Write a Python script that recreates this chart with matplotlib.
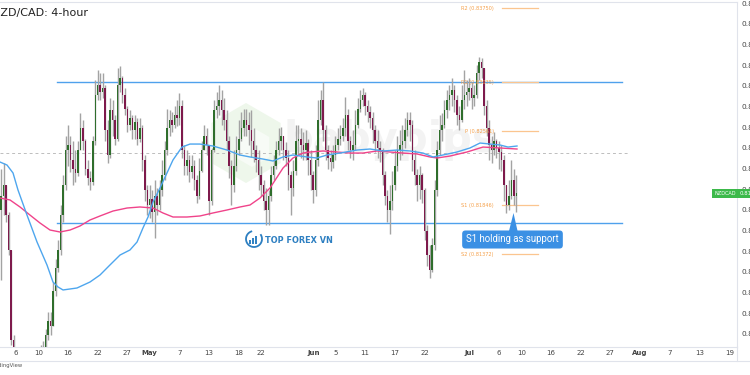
import numpy as np
import matplotlib
matplotlib.use("Agg")
import matplotlib.pyplot as plt
from matplotlib.patches import Polygon
from matplotlib.lines import Line2D

# ---------------- data ----------------
# trading-day index: 0 = session of Mon 7 Apr 2025 (starts Sun 6 Apr evening)
bars_per_day = 3
first_day = -2.0
first_open = 0.8180

# prices in units of 0.0001
close_pips = [8194, 8204, 8175, 8141, 8054, 8035,
              8025, 8000, 7985, 7978, 7992, 7968, 7980, 7990, 8005, 8015, 8032, 8040,
              8059, 8073, 8068, 8102, 8124, 8141, 8175, 8204, 8238, 8243, 8228, 8220,
              8216, 8238, 8259, 8247, 8220, 8211, 8207, 8247, 8291, 8301, 8294, 8298,
              8257, 8233, 8277, 8267, 8249, 8301, 8308, 8291, 8278, 8262, 8269, 8257,
              8265, 8249, 8259, 8228, 8199, 8185, 8191, 8178, 8194, 8185, 8199, 8214,
              8238, 8259, 8267, 8262, 8272, 8269, 8281, 8238, 8223, 8228, 8217, 8223,
              8209, 8194, 8218, 8238, 8252, 8243, 8189, 8238, 8277, 8281, 8286, 8277,
              8267, 8247, 8223, 8204, 8223, 8238, 8249, 8259, 8267, 8262, 8257, 8247,
              8238, 8228, 8214, 8204, 8189, 8180, 8194, 8214, 8223, 8238, 8247, 8252,
              8238, 8230, 8214, 8201, 8218, 8247, 8249, 8243, 8238, 8245, 8228, 8214,
              8199, 8228, 8267, 8286, 8257, 8238, 8230, 8226, 8233, 8243, 8249, 8252,
              8259, 8272, 8247, 8238, 8243, 8262, 8278, 8286, 8291, 8281, 8275, 8269,
              8257, 8247, 8240, 8238, 8214, 8194, 8180, 8189, 8204, 8223, 8238, 8243,
              8247, 8257, 8267, 8262, 8228, 8214, 8204, 8214, 8199, 8160, 8136, 8122,
              8146, 8199, 8238, 8257, 8262, 8277, 8286, 8291, 8296, 8286, 8272, 8267,
              8286, 8291, 8294, 8298, 8288, 8291, 8313, 8323, 8317, 8281, 8259, 8243,
              8238, 8247, 8240, 8236, 8228, 8204, 8185, 8194, 8209, 8194, 8196]
high_pips = [8220, 8225, 8199, 8178, 8141, 8059,
             8040, 8030, 8005, 7995, 8000, 7995, 7990, 8000, 8015, 8030, 8049, 8053,
             8065, 8081, 8081, 8110, 8133, 8151, 8185, 8214, 8252, 8262, 8252, 8247,
             8238, 8247, 8274, 8267, 8249, 8228, 8218, 8252, 8306, 8315, 8313, 8313,
             8301, 8267, 8288, 8286, 8272, 8317, 8319, 8310, 8298, 8281, 8277, 8272,
             8272, 8269, 8269, 8262, 8233, 8204, 8204, 8199, 8209, 8201, 8209, 8228,
             8247, 8278, 8277, 8275, 8281, 8286, 8293, 8286, 8243, 8238, 8233, 8233,
             8228, 8214, 8230, 8247, 8262, 8259, 8243, 8240, 8286, 8294, 8301, 8296,
             8288, 8277, 8252, 8228, 8238, 8252, 8267, 8275, 8278, 8278, 8275, 8277,
             8259, 8243, 8238, 8223, 8209, 8201, 8199, 8223, 8233, 8247, 8259, 8260,
             8252, 8246, 8238, 8218, 8228, 8262, 8262, 8259, 8255, 8257, 8249, 8238,
             8218, 8243, 8286, 8296, 8304, 8262, 8243, 8238, 8243, 8252, 8259, 8262,
             8269, 8289, 8278, 8252, 8257, 8277, 8288, 8296, 8298, 8294, 8286, 8281,
             8275, 8262, 8257, 8247, 8240, 8218, 8199, 8204, 8218, 8238, 8252, 8257,
             8262, 8269, 8275, 8275, 8267, 8238, 8220, 8223, 8216, 8201, 8165, 8146,
             8153, 8209, 8247, 8272, 8274, 8286, 8296, 8301, 8308, 8301, 8291, 8281,
             8301, 8315, 8306, 8308, 8304, 8301, 8320, 8328, 8327, 8315, 8286, 8267,
             8252, 8255, 8249, 8247, 8243, 8233, 8204, 8209, 8228, 8220, 8214]
low_pips = [8112, 8175, 8168, 8136, 8049, 8015,
            8005, 7985, 7970, 7960, 7970, 7955, 7960, 7975, 7985, 8000, 8010, 8025,
            8046, 8054, 8059, 8068, 8097, 8120, 8136, 8168, 8199, 8223, 8217, 8204,
            8207, 8213, 8238, 8238, 8214, 8204, 8199, 8204, 8243, 8286, 8286, 8288,
            8247, 8225, 8230, 8252, 8243, 8247, 8294, 8284, 8272, 8255, 8257, 8249,
            8249, 8243, 8246, 8218, 8189, 8175, 8172, 8168, 8153, 8175, 8180, 8194,
            8209, 8233, 8252, 8255, 8259, 8261, 8262, 8230, 8214, 8214, 8207, 8211,
            8199, 8187, 8191, 8217, 8238, 8233, 8175, 8185, 8236, 8269, 8272, 8262,
            8257, 8238, 8211, 8185, 8197, 8218, 8233, 8247, 8252, 8252, 8243, 8231,
            8226, 8217, 8199, 8194, 8180, 8165, 8165, 8189, 8209, 8220, 8233, 8238,
            8228, 8223, 8199, 8175, 8194, 8214, 8233, 8230, 8228, 8228, 8214, 8199,
            8187, 8194, 8223, 8262, 8247, 8228, 8220, 8218, 8221, 8228, 8238, 8243,
            8247, 8252, 8238, 8230, 8228, 8238, 8259, 8275, 8281, 8272, 8265, 8259,
            8245, 8236, 8230, 8226, 8204, 8185, 8168, 8157, 8180, 8199, 8218, 8228,
            8233, 8240, 8252, 8247, 8218, 8204, 8189, 8191, 8187, 8151, 8126, 8114,
            8120, 8141, 8194, 8233, 8247, 8259, 8269, 8277, 8281, 8275, 8262, 8257,
            8265, 8278, 8281, 8286, 8278, 8281, 8288, 8306, 8308, 8272, 8252, 8228,
            8225, 8233, 8230, 8220, 8218, 8189, 8177, 8180, 8191, 8185, 8178]

# moving averages (trading-day index, price)
ma_fast_day = [-2.15, -1.21, -0.40, 0.27, 1.48, 2.83, 4.17, 4.98, 5.65, 6.33, 8.21, 9.96,
               11.31, 12.65, 14.0, 15.34, 16.29, 17.09, 17.77, 18.44, 19.38, 20.32, 21.13,
               22.34, 23.42, 24.76, 26.51, 28.40, 30.15, 31.49, 33.24, 34.59, 35.94, 37.28,
               39.17, 40.51, 41.86, 43.61, 45.90, 47.64, 49.39, 51.28, 53.03, 54.78, 56.12,
               57.47, 59.35, 61.10, 62.45, 63.80, 65.14, 66.22, 67.43]
ma_fast_val = [0.82264, 0.82235, 0.82158, 0.81993, 0.81751, 0.81490, 0.81268, 0.81103,
               0.81055, 0.81026, 0.81045, 0.81103, 0.81171, 0.81268, 0.81364, 0.81413,
               0.81490, 0.81626, 0.81732, 0.81877, 0.82013, 0.82158, 0.82284, 0.82409,
               0.82438, 0.82438, 0.82419, 0.82380, 0.82332, 0.82313, 0.82293, 0.82274,
               0.82313, 0.82332, 0.82313, 0.82303, 0.82332, 0.82351, 0.82380, 0.82390,
               0.82371, 0.82380, 0.82371, 0.82351, 0.82313, 0.82332, 0.82361, 0.82400,
               0.82448, 0.82438, 0.82429, 0.82409, 0.82419]
ma_slow_day = [-2.15, -0.81, 0.54, 1.88, 3.23, 4.58, 5.92, 7.27, 8.61, 9.96, 11.31, 13.06,
               14.94, 16.69, 18.44, 19.78, 21.13, 23.01, 24.76, 26.51, 28.40, 30.15, 31.49,
               32.84, 34.19, 35.94, 37.28, 38.63, 39.57, 41.32, 43.20, 44.95, 46.70, 48.59,
               50.34, 52.09, 53.97, 55.72, 56.66, 58.41, 60.70, 62.85, 65.14, 67.43]
ma_slow_val = [0.81916, 0.81897, 0.81829, 0.81751, 0.81674, 0.81606, 0.81587, 0.81606,
               0.81645, 0.81703, 0.81742, 0.81790, 0.81819, 0.81829, 0.81819, 0.81771,
               0.81732, 0.81732, 0.81742, 0.81771, 0.81800, 0.81829, 0.81848, 0.81916,
               0.82013, 0.82206, 0.82303, 0.82351, 0.82361, 0.82371, 0.82361, 0.82351,
               0.82351, 0.82371, 0.82361, 0.82351, 0.82342, 0.82313, 0.82303, 0.82322,
               0.82361, 0.82409, 0.82400, 0.82390]

range_levels = [0.83038, 0.81671]
mid_level = 0.82351
pivot_names = ["R2", "R1", "P", "S1", "S2"]
pivot_vals = [0.83750, 0.83035, 0.82561, 0.81846, 0.81372]

tick_dates = ["2025-04-06", "2025-04-10", "2025-04-16", "2025-04-22", "2025-04-27",
              "2025-05-01", "2025-05-07", "2025-05-13", "2025-05-18", "2025-05-22",
              "2025-06-01", "2025-06-05", "2025-06-11", "2025-06-17", "2025-06-22",
              "2025-07-01", "2025-07-06", "2025-07-10", "2025-07-16", "2025-07-22",
              "2025-07-27", "2025-08-01", "2025-08-07", "2025-08-13", "2025-08-19"]
tick_labels = ["6", "10", "16", "22", "27", "May", "7", "13", "18", "22", "Jun", "5",
               "11", "17", "22", "Jul", "6", "10", "16", "22", "27", "Aug", "7", "13", "19"]
month_labels = {"May", "Jun", "Jul", "Aug"}
price_ticks = [0.806, 0.808, 0.810, 0.812, 0.814, 0.816, 0.818, 0.820, 0.822, 0.824,
               0.826, 0.828, 0.830, 0.832, 0.834, 0.836, 0.838]

# ---------------- figure ----------------
W, H = 750, 375
fig = plt.figure(figsize=(7.5, 3.75), dpi=100)
fig.patch.set_facecolor("white")
AX_W, AX_H = 737, 345
ax = fig.add_axes([0, 28 / H, AX_W / W, AX_H / H])
ax.set_xlim(-2.153, 97.04)
ax.set_ylim(0.804741, 0.838126)

border = "#e0e3eb"
for s in ["left"]:
    ax.spines[s].set_visible(False)
for s in ["top", "bottom", "right"]:
    ax.spines[s].set_color(border)
    ax.spines[s].set_linewidth(0.8)

# watermark
ax.text(390 / AX_W, (AX_H + 2 - 140) / AX_H, "babypips", transform=ax.transAxes,
        ha="center", va="center", fontsize=30, fontweight="bold", color="#f3f3f3", zorder=0)
cx, cy, r = 246, 143, 40
ang = np.deg2rad(np.arange(6) * 60 + 30)
hexv = [((cx + r * np.cos(a)) / AX_W, (AX_H + 2 - (cy + r * np.sin(a))) / AX_H) for a in ang]
ax.add_patch(Polygon(hexv, closed=True, transform=ax.transAxes, fc="#eef7eb", ec="none", zorder=0))
r2 = 20
hexv2 = [((cx + 6 + r2 * np.cos(a)) / AX_W, (AX_H + 2 - (cy + 4 + r2 * np.sin(a))) / AX_H) for a in ang]
ax.add_patch(Polygon(hexv2, closed=True, transform=ax.transAxes, fc="#f7fbf6", ec="none", zorder=0))

# candles
closes = np.array(close_pips) / 1e4
highs = np.array(high_pips) / 1e4
lows = np.array(low_pips) / 1e4
opens = np.concatenate([[first_open], closes[:-1]])
n = len(closes)
xs = first_day + np.arange(n) / bars_per_day
top = np.maximum(highs, np.maximum(opens, closes))
bot = np.minimum(lows, np.minimum(opens, closes))
ax.vlines(xs, bot, top, color="#a3a3a3", lw=1.0, zorder=3)
up = closes >= opens
blo = np.minimum(opens, closes)
bh = np.maximum(np.abs(closes - opens), 0.00004)
ax.bar(xs[up], bh[up], bottom=blo[up], width=0.2, color="#2f6e2c", linewidth=0, zorder=4)
ax.bar(xs[~up], bh[~up], bottom=blo[~up], width=0.2, color="#7e1a4c", linewidth=0, zorder=4)

# moving averages
ax.plot(ma_slow_day, ma_slow_val, color="#f0438a", lw=1.0, zorder=5)
ax.plot(ma_fast_day, ma_fast_val, color="#4ea6ee", lw=1.0, zorder=5)

# levels
for v in range_levels:
    ax.plot([5.52, 81.56], [v, v], color="#4fa1ec", lw=1.0, zorder=2)
ax.plot([-2.2, 82.6], [mid_level, mid_level], color="#bdbdbd", lw=0.7, ls=(0, (3, 3)), zorder=1)
for name, v in zip(pivot_names, pivot_vals):
    ax.plot([65.4, 70.3], [v, v], color="#fbc58f", lw=0.9, zorder=2)
    ax.text(64.3, v, f"{name} ({v:.5f})", ha="right", va="center", fontsize=3.6,
            color="#f5a04a", zorder=6)

# axes ticks
ax.yaxis.tick_right()
ax.set_yticks(price_ticks)
ax.set_yticklabels([f"{p:.5f}" for p in price_ticks])
ax.tick_params(axis="y", length=0, pad=3.6, labelsize=5.3, labelcolor="#444444")
pos = np.busday_count("2025-04-07", np.busday_offset(np.array(tick_dates, dtype="datetime64[D]"),
                                                     0, roll="forward"))
ax.set_xticks(pos)
ax.set_xticklabels(tick_labels)
ax.tick_params(axis="x", length=0, pad=2.5, labelsize=5.0, labelcolor="#444444")
for lab in ax.get_xticklabels():
    if lab.get_text() in month_labels:
        lab.set_fontweight("bold")

# bottom frame lines
fig.add_artist(Line2D([0, 1], [(H - 361) / H] * 2, color=border, lw=0.8, transform=fig.transFigure))
fig.add_artist(Line2D([AX_W / W] * 2, [(H - 361) / H, 28 / H], color=border, lw=0.8,
                      transform=fig.transFigure))

# current price labels
last = closes[-1]
green = "#3cb94a"
ax.text(0.9985, last, "NZDCAD", transform=ax.get_yaxis_transform(), ha="right", va="center",
        fontsize=3.6, color="white", zorder=10, clip_on=False,
        bbox=dict(boxstyle="square,pad=0.45", fc=green, ec="none"))
ax.text(1.004, last, f"{last:.5f}", transform=ax.get_yaxis_transform(), ha="left", va="center",
        fontsize=3.9, color="white", zorder=10, clip_on=False,
        bbox=dict(boxstyle="square,pad=0.45", fc=green, ec="none"))

# callout
fx = lambda px: px / AX_W
fy = lambda py: (AX_H + 2 - py) / AX_H
ax.add_patch(Polygon([(fx(508.5), fy(233)), (fx(518), fy(233)), (fx(513.5), fy(213))],
                     closed=True, transform=ax.transAxes, fc="#3b90e4", ec="none", zorder=8))
ax.text(fx(512.5), fy(239.5), "S1 holding as support", transform=ax.transAxes, ha="center",
        va="center", fontsize=6.9, color="white", family="Roboto", zorder=9,
        bbox=dict(boxstyle="round,pad=0.42,rounding_size=0.35", fc="#3b90e4", ec="none"))

# TOP FOREX VN logo
th = np.linspace(np.deg2rad(110), np.deg2rad(390), 40)
ax.plot(fx(254 + 8 * np.cos(th)), fy(239 - 8 * np.sin(th)), transform=ax.transAxes,
        color="#2d7fc1", lw=1.3, zorder=6)
for i, hgt in enumerate([4, 6, 8]):
    x0 = 250 + i * 3
    ax.plot([fx(x0), fx(x0)], [fy(244), fy(244 - hgt)], transform=ax.transAxes,
            color="#2d7fc1", lw=1.4, zorder=6, solid_capstyle="butt")
ax.text(fx(265), fy(241), "TOP FOREX VN", transform=ax.transAxes, ha="left", va="center",
        fontsize=5.9, fontweight="bold", color="#2d7fc1", zorder=6)

# title and footer
fig.text(-8 / W, (H - 13) / H, "NZD/CAD: 4-hour", ha="left", va="center", fontsize=8,
         color="#222222")
fig.text(-9 / W, (H - 366) / H, "TradingView", ha="left", va="center", fontsize=3.8,
         color="#555555")

fig.savefig("out.png", dpi=100)
